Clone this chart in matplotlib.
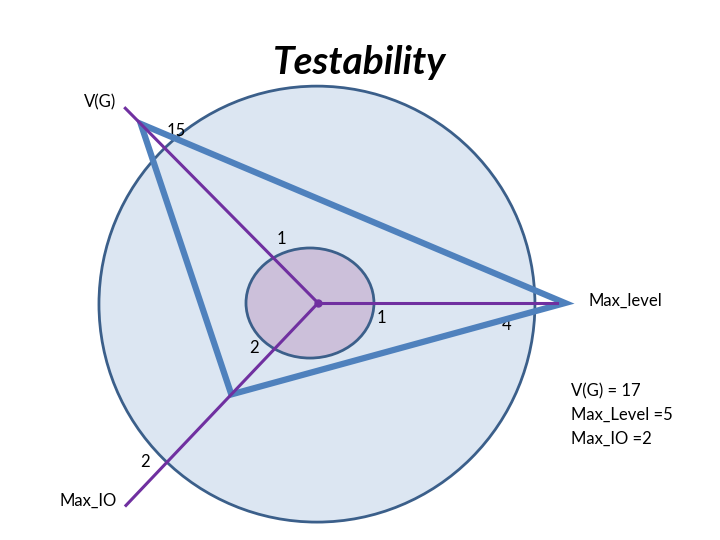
import numpy as np
import matplotlib
matplotlib.use('Agg')
import matplotlib.pyplot as plt
from matplotlib.patches import Circle, Ellipse, Polygon

# axes of the diagram
axis_names = ["V(G)", "Max_level", "Max_IO"]
axis_angles = [134.7, 0.0, 226.5]          # degrees
axis_lengths = [1.257, 1.096, 1.28]        # in units of the outer circle radius
outer_ticks = ["15", "4", "2"]
inner_ticks = ["1", "1", "2"]
# triangle: measured values, radius relative to outer circle
triangle_r = [1.156, 1.133, 0.578]
summary_names = ["V(G)", "Max_Level", "Max_IO"]
summary_values = [17, 5, 2]

purple = "#7030A0"
blue = "#4F81BD"
edge = "#3B5F8A"

plt.rcParams['font.family'] = ['Lato', 'DejaVu Sans']

fig = plt.figure(figsize=(7.2, 5.4), dpi=100)
ax = fig.add_axes([0, 0, 1, 1])
ax.set_xlim(-1.459, 1.844)
ax.set_ylim(-1.087, 1.390)
ax.set_aspect('equal')
ax.axis('off')

# outer circle and inner ellipse
ax.add_patch(Circle((-0.005, -0.005), 1.0, facecolor="#DCE6F2", edgecolor=edge, lw=2, zorder=1))
ell_w, ell_h, ell_cx = 0.587, 0.505, -0.037
ax.add_patch(Ellipse((ell_cx, 0), ell_w, ell_h, facecolor="#CCC0DA", edgecolor=edge, lw=2, zorder=2))

th = np.radians(axis_angles)

# triangle
tx = np.array(triangle_r) * np.cos(th)
ty = np.array(triangle_r) * np.sin(th)
ax.add_patch(Polygon(np.column_stack([tx, ty]), closed=True, fill=False,
                     edgecolor=blue, lw=4.5, joinstyle='miter', zorder=3))

# purple spokes
for a, L in zip(th, axis_lengths):
    ax.plot([0, L * np.cos(a)], [0, L * np.sin(a)], color=purple, lw=2.2, zorder=4)
ax.plot(0, 0, 'o', color=purple, ms=5, zorder=5)

fs = 12
# axis end labels
end_off = [(-25, 6), (68, 2), (-38, 5)]
for name, a, L, off in zip(axis_names, th, axis_lengths, end_off):
    ax.annotate(name, (L * np.cos(a), L * np.sin(a)), xytext=off, textcoords='offset pixels',
                ha='center', va='center', fontsize=fs)

# outer ring tick labels (sit under the triangle)
outer_off = [(12, 17), (-29, -22), (-23, -1)]
for t, a, off in zip(outer_ticks, th, outer_off):
    ax.annotate(t, (np.cos(a), np.sin(a)), xytext=off, textcoords='offset pixels',
                ha='center', va='center', fontsize=fs, zorder=2.5)

# inner ring tick labels (where each spoke meets the ellipse)
inner_off = [(8, 19), (7, -15), (-21, 1)]
for t, a, off in zip(inner_ticks, th, inner_off):
    # solve (x-cx)^2/a^2 + y^2/b^2 = 1 along ray
    c, s = np.cos(a), np.sin(a)
    A = (c / (ell_w / 2)) ** 2 + (s / (ell_h / 2)) ** 2
    B = -2 * ell_cx * c / (ell_w / 2) ** 2
    C = (ell_cx / (ell_w / 2)) ** 2 - 1
    r = (-B + np.sqrt(B * B - 4 * A * C)) / (2 * A)
    ax.annotate(t, (r * c, r * s), xytext=off, textcoords='offset pixels',
                ha='center', va='center', fontsize=fs, zorder=2.5)

# summary box
summary = "\n".join([f"{summary_names[0]} = {summary_values[0]}",
                     f"{summary_names[1]} ={summary_values[1]}",
                     f"{summary_names[2]} ={summary_values[2]}"])
fig.text(571 / 720, 1 - 383 / 540, summary, ha='left', va='top', fontsize=fs, linespacing=1.6)

fig.text(360 / 720, 1 - 63 / 540, "Testability", ha='center', va='center',
         fontsize=28, fontweight='bold', fontstyle='italic')

fig.savefig("out.png", dpi=100)
